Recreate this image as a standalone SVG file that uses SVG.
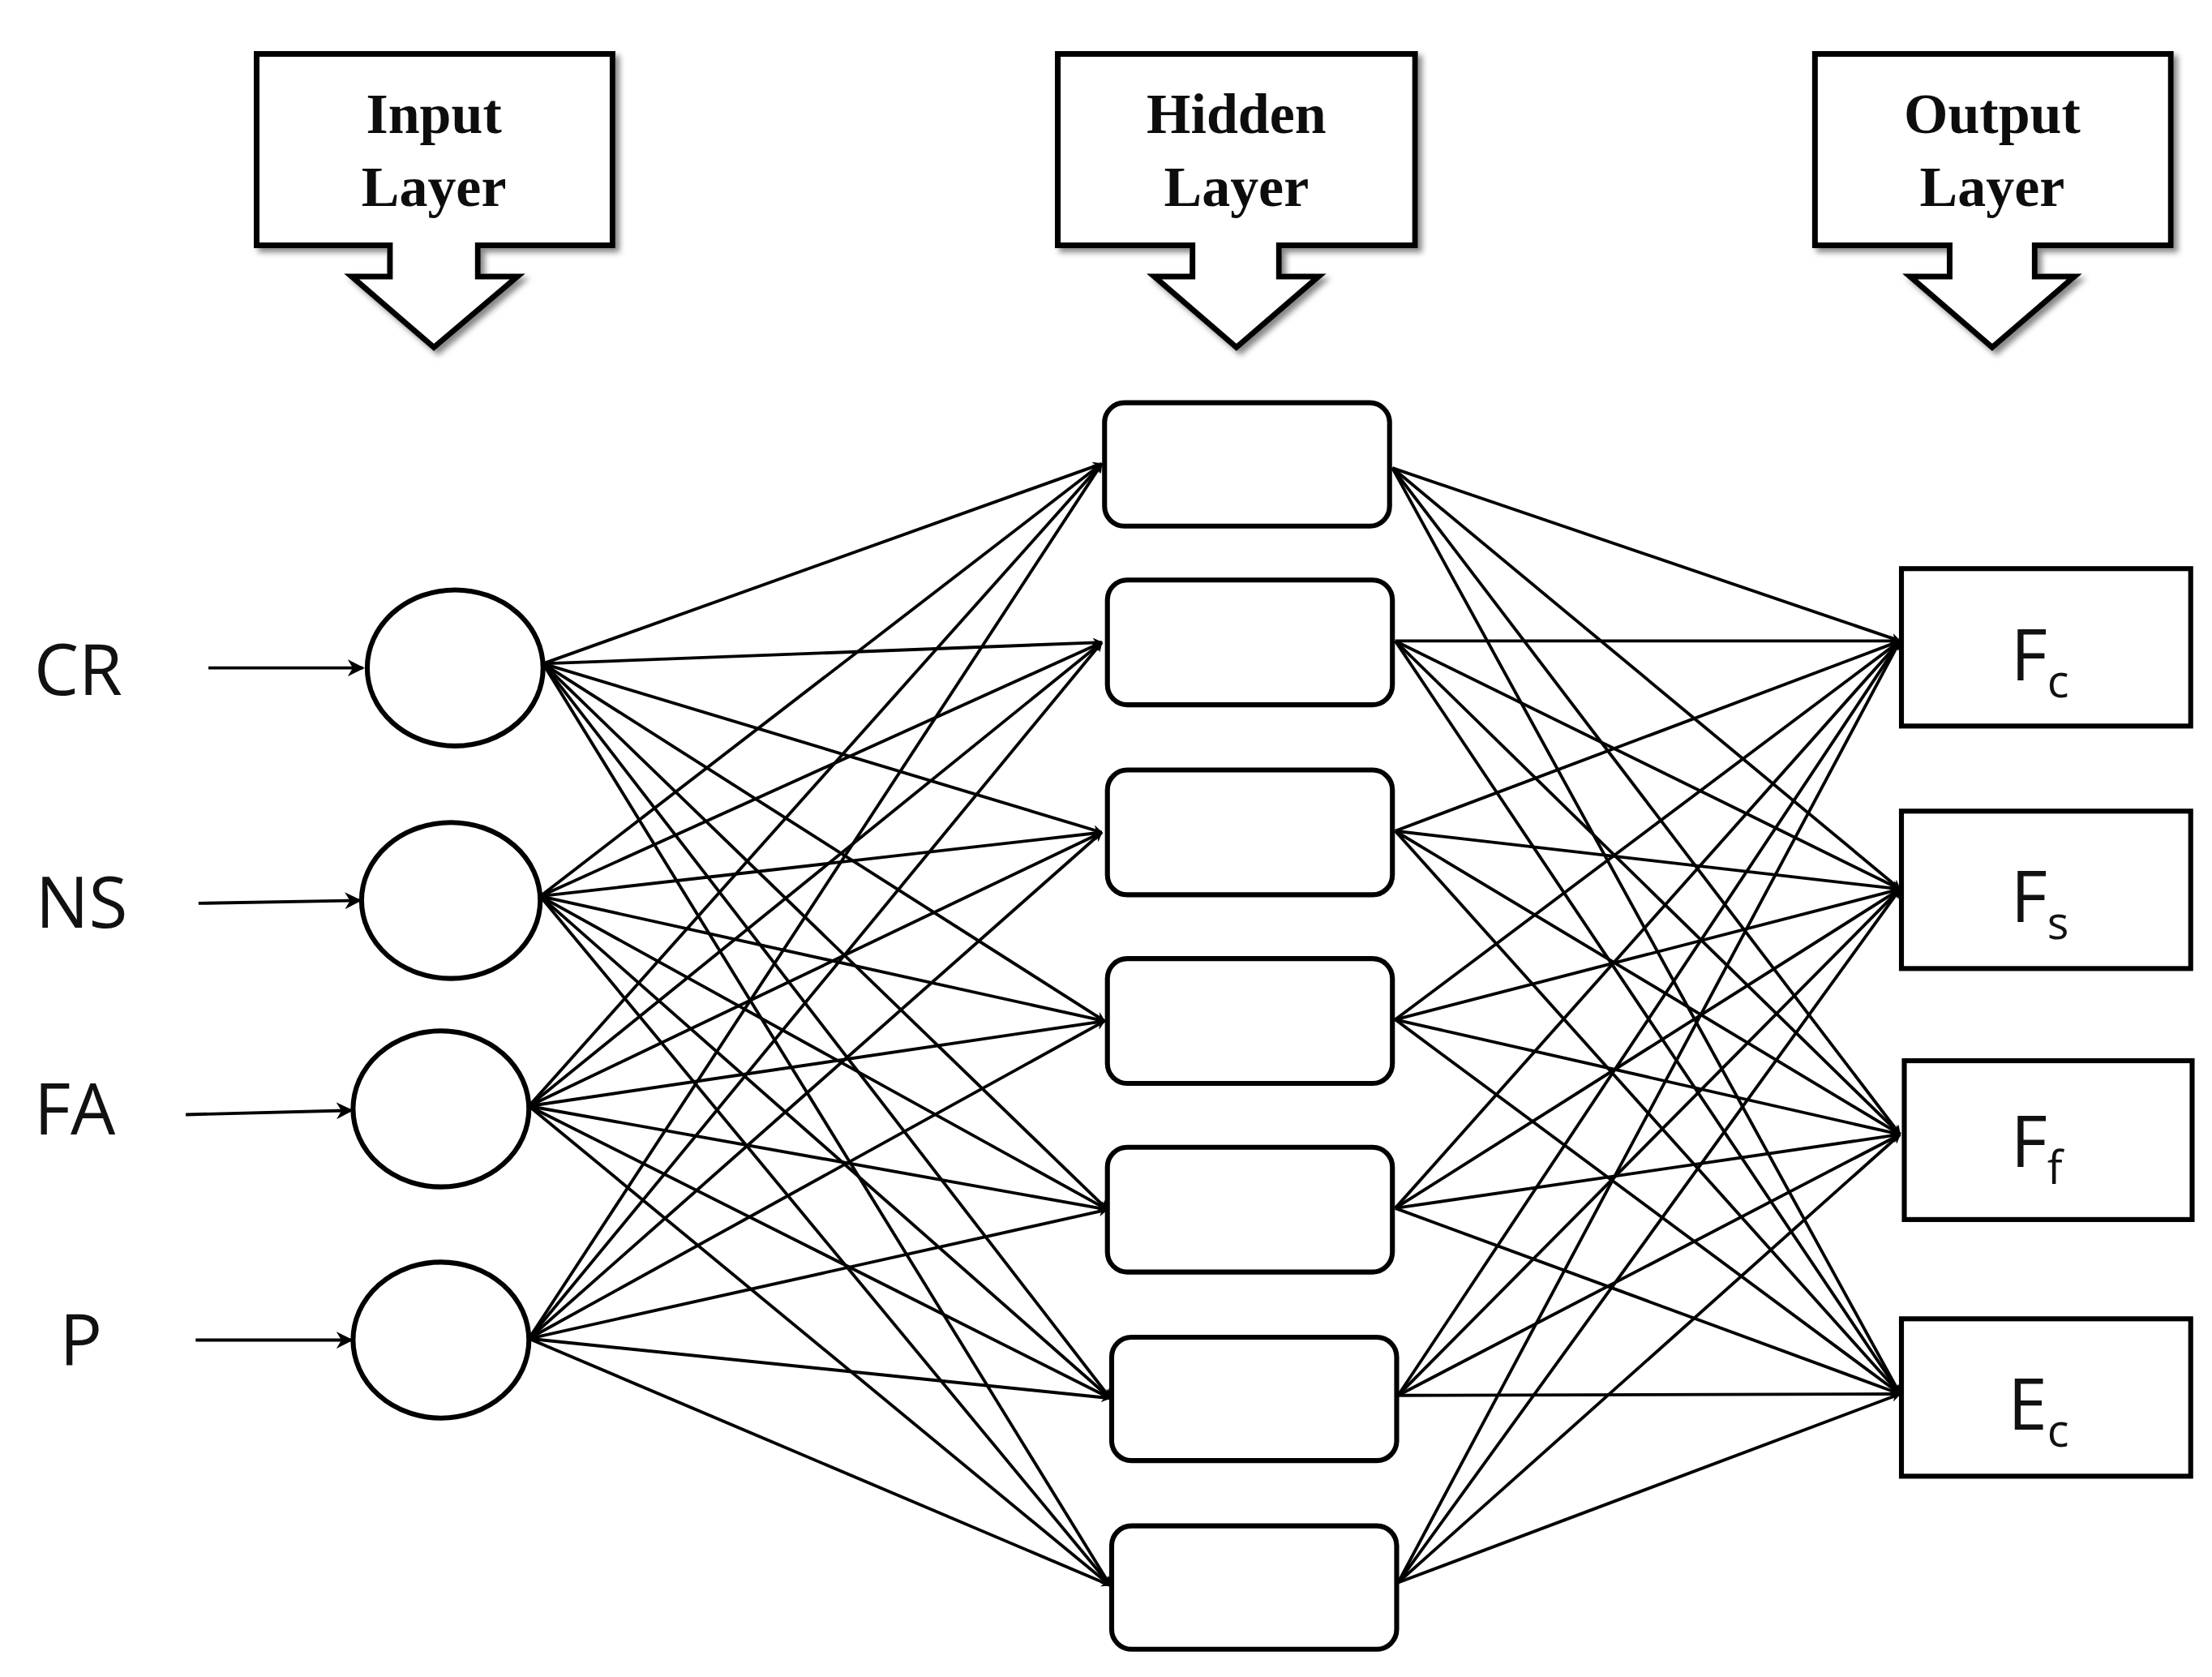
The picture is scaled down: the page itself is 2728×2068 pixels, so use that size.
<svg xmlns="http://www.w3.org/2000/svg" width="2728" height="2068" viewBox="0 0 2728 2068">
<style>
.cl{fill:#fff;stroke:#000;stroke-width:4;stroke-linejoin:miter}
.hd{font-family:"Liberation Serif",serif;font-weight:bold;font-size:40px;text-anchor:middle;fill:#111}
.nd{fill:#fff;stroke:#000;stroke-width:3.5}
.lb{font-family:"Open Sans","DejaVu Sans",sans-serif;font-size:50px;fill:#111}
.sb{font-size:32px}
.ln{stroke:#000;stroke-width:2.2;fill:none;marker-end:url(#ah)}
</style>
<defs>
<marker id="ah" viewBox="0 0 10 10" refX="9" refY="5" markerWidth="7" markerHeight="7" orient="auto" markerUnits="userSpaceOnUse"><path d="M0,0 L10,5 L0,10 L3,5 Z" fill="#000"/></marker>
<filter id="sh" x="-10%" y="-10%" width="130%" height="130%"><feDropShadow dx="3" dy="3" stdDeviation="2" flood-color="#888"/></filter>
<marker id="ah2" viewBox="0 0 10 10" refX="9" refY="5" markerWidth="12" markerHeight="12" orient="auto" markerUnits="userSpaceOnUse"><path d="M0,0 L10,5 L0,10 L3,5 Z" fill="#000"/></marker>
</defs>
<rect width="2728" height="2068" fill="#fff"/>
<g transform="scale(1.7487)">
<g id="callout-input" filter="url(#sh)"><path class="cl" d="M181,38 H432 V173 H337 V195 H365 L306,245 L248,195 H275 V173 H181 Z"/><text class="hd" x="306" y="94">Input</text><text class="hd" x="306" y="145">Layer</text></g>
<g id="callout-hidden" filter="url(#sh)"><path class="cl" d="M746,38 H998 V173 H902 V195 H930 L872,245 L814,195 H841 V173 H746 Z"/><text class="hd" x="872" y="94">Hidden</text><text class="hd" x="872" y="145">Layer</text></g>
<g id="callout-output" filter="url(#sh)"><path class="cl" d="M1280,38 H1531 V173 H1435 V195 H1463 L1405,245 L1347,195 H1375 V173 H1280 Z"/><text class="hd" x="1405" y="94">Output</text><text class="hd" x="1405" y="145">Layer</text></g>

<g id="connectors">
<path class="ln" style="marker-end:url(#ah2)" d="M147,471 H256"/>
<path class="ln" style="marker-end:url(#ah2)" d="M140,637 L254,635"/>
<path class="ln" style="marker-end:url(#ah2)" d="M131,786 L248,783"/>
<path class="ln" style="marker-end:url(#ah2)" d="M138,945 H248"/>
<!-- input to hidden -->
<g>
<path class="ln" d="M383,468 L777,327"/><path class="ln" d="M383,468 L777,453"/><path class="ln" d="M383,468 L777,587"/><path class="ln" d="M383,468 L779,720"/><path class="ln" d="M383,468 L781,853"/><path class="ln" d="M383,468 L783,986"/><path class="ln" d="M383,468 L783,1118"/>
<path class="ln" d="M381,632 L777,327"/><path class="ln" d="M381,632 L777,453"/><path class="ln" d="M381,632 L777,587"/><path class="ln" d="M381,632 L779,720"/><path class="ln" d="M381,632 L781,853"/><path class="ln" d="M381,632 L783,986"/><path class="ln" d="M381,632 L783,1118"/>
<path class="ln" d="M373,780 L777,327"/><path class="ln" d="M373,780 L777,453"/><path class="ln" d="M373,780 L777,587"/><path class="ln" d="M373,780 L779,720"/><path class="ln" d="M373,780 L781,853"/><path class="ln" d="M373,780 L783,986"/><path class="ln" d="M373,780 L783,1118"/>
<path class="ln" d="M373,944 L777,327"/><path class="ln" d="M373,944 L777,453"/><path class="ln" d="M373,944 L777,587"/><path class="ln" d="M373,944 L779,720"/><path class="ln" d="M373,944 L781,853"/><path class="ln" d="M373,944 L783,986"/><path class="ln" d="M373,944 L783,1118"/>
</g>
<!-- hidden to output -->
<g>
<path class="ln" d="M982,330 L1340,452"/><path class="ln" d="M982,330 L1340,627"/><path class="ln" d="M982,330 L1340,800"/><path class="ln" d="M982,330 L1340,983"/>
<path class="ln" d="M984,452 L1340,452"/><path class="ln" d="M984,452 L1340,627"/><path class="ln" d="M984,452 L1340,800"/><path class="ln" d="M984,452 L1340,983"/>
<path class="ln" d="M984,586 L1340,452"/><path class="ln" d="M984,586 L1340,627"/><path class="ln" d="M984,586 L1340,800"/><path class="ln" d="M984,586 L1340,983"/>
<path class="ln" d="M984,719 L1340,452"/><path class="ln" d="M984,719 L1340,627"/><path class="ln" d="M984,719 L1340,800"/><path class="ln" d="M984,719 L1340,983"/>
<path class="ln" d="M984,852 L1340,452"/><path class="ln" d="M984,852 L1340,627"/><path class="ln" d="M984,852 L1340,800"/><path class="ln" d="M984,852 L1340,983"/>
<path class="ln" d="M986,984 L1340,452"/><path class="ln" d="M986,984 L1340,627"/><path class="ln" d="M986,984 L1340,800"/><path class="ln" d="M986,984 L1340,983"/>
<path class="ln" d="M986,1116 L1340,452"/><path class="ln" d="M986,1116 L1340,627"/><path class="ln" d="M986,1116 L1340,800"/><path class="ln" d="M986,1116 L1340,983"/>
</g>
</g>

<g id="in-CR"><ellipse class="nd" cx="321" cy="471" rx="62" ry="55"/><text class="lb" x="24" y="490">CR</text></g>
<g id="in-NS"><ellipse class="nd" cx="318" cy="635" rx="63" ry="55"/><text class="lb" x="25" y="654">NS</text></g>
<g id="in-FA"><ellipse class="nd" cx="311" cy="782" rx="62" ry="55"/><text class="lb" x="24" y="800">FA</text></g>
<g id="in-P"><ellipse class="nd" cx="311" cy="945" rx="62" ry="55"/><text class="lb" x="42" y="963">P</text></g>

<g id="h1"><rect class="nd" x="779" y="284" width="201" height="87" rx="14"/></g>
<g id="h2"><rect class="nd" x="781" y="409" width="201" height="88" rx="14"/></g>
<g id="h3"><rect class="nd" x="781" y="543" width="201" height="88" rx="14"/></g>
<g id="h4"><rect class="nd" x="781" y="676" width="201" height="88" rx="14"/></g>
<g id="h5"><rect class="nd" x="781" y="809" width="201" height="88" rx="14"/></g>
<g id="h6"><rect class="nd" x="784" y="943" width="201" height="87" rx="14"/></g>
<g id="h7"><rect class="nd" x="784" y="1076" width="201" height="87" rx="14"/></g>

<g id="out-Fc"><rect class="nd" x="1341" y="401" width="204" height="111"/><text class="lb" x="1418" y="480">F<tspan class="sb" dy="12">c</tspan></text></g>
<g id="out-Fs"><rect class="nd" x="1341" y="572" width="204" height="111"/><text class="lb" x="1418" y="650">F<tspan class="sb" dy="12">s</tspan></text></g>
<g id="out-Ff"><rect class="nd" x="1343" y="748" width="203" height="112"/><text class="lb" x="1418" y="823">F<tspan class="sb" dy="12">f</tspan></text></g>
<g id="out-Ec"><rect class="nd" x="1341" y="930" width="204" height="111"/><text class="lb" x="1416" y="1008">E<tspan class="sb" dy="12">c</tspan></text></g>
</g>
</svg>
